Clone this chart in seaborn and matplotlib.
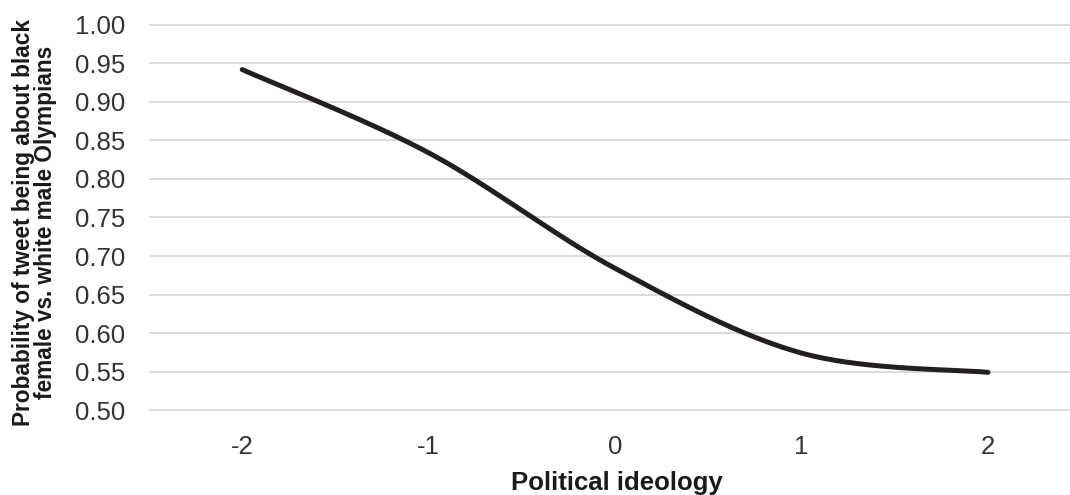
import numpy as np
import pandas as pd
import matplotlib
matplotlib.use("Agg")
import matplotlib.pyplot as plt
import seaborn as sns

# Data
ideology = [-2, -1, 0, 1, 2]
probability = [0.942, 0.834, 0.684, 0.574, 0.549]
y_ticks = [0.50, 0.55, 0.60, 0.65, 0.70, 0.75, 0.80, 0.85, 0.90, 0.95, 1.00]
x_label = "Political ideology"
y_label = "Probability of tweet being about black\nfemale vs. white male Olympians"


def smooth_curve(xv, yv, n=60):
    """Excel-style smoothed line (Catmull-Rom Bezier) through the data points."""
    x = np.asarray(xv, float)
    y = np.asarray(yv, float)
    px = np.concatenate([[x[0]], x, [x[-1]]])
    py = np.concatenate([[y[0]], y, [y[-1]]])
    out_x, out_y = [], []
    t = np.linspace(0, 1, n)
    for i in range(1, len(px) - 2):
        p0x, p1x, p2x, p3x = px[i - 1], px[i], px[i + 1], px[i + 2]
        p0y, p1y, p2y, p3y = py[i - 1], py[i], py[i + 1], py[i + 2]
        c1x, c1y = p1x + (p2x - p0x) / 6, p1y + (p2y - p0y) / 6
        c2x, c2y = p2x - (p3x - p1x) / 6, p2y - (p3y - p1y) / 6
        bx = (1 - t) ** 3 * p1x + 3 * (1 - t) ** 2 * t * c1x + 3 * (1 - t) * t ** 2 * c2x + t ** 3 * p2x
        by = (1 - t) ** 3 * p1y + 3 * (1 - t) ** 2 * t * c1y + 3 * (1 - t) * t ** 2 * c2y + t ** 3 * p2y
        if i > 1:
            bx, by = bx[1:], by[1:]
        out_x.extend(bx)
        out_y.extend(by)
    return np.array(out_x), np.array(out_y)


sns.set_theme(style="white")
plt.rcParams["font.family"] = ["Liberation Sans", "DejaVu Sans"]

fig = plt.figure(figsize=(10.7, 4.95), dpi=100)
ax = fig.add_axes([149 / 1070, (495 - 410.7) / 495, 921 / 1070, 386.4 / 495])

sx, sy = smooth_curve(ideology, probability)
df = pd.DataFrame({"ideology": sx, "probability": sy})
sns.lineplot(data=df, x="ideology", y="probability", ax=ax, color="#231f20",
             linewidth=3.6, solid_capstyle="round", sort=False, estimator=None)

ax.set_xlim(-2.5, 2.44)
ax.set_ylim(0.4992, 1.0008)
ax.set_xticks(ideology)
ax.set_xticklabels([str(v) for v in ideology])
ax.set_yticks(y_ticks)
ax.set_yticklabels([f"{v:.2f}" for v in y_ticks])
ax.grid(axis="y", color="#d9d9d9", linewidth=1.3)
ax.grid(axis="x", visible=False)
ax.set_axisbelow(True)
for s in ax.spines.values():
    s.set_visible(False)

ax.tick_params(axis="both", length=0, labelsize=18.5, labelcolor="#333333")
ax.tick_params(axis="y", pad=17.3)
ax.tick_params(axis="x", pad=17.3)

ax.set_xlabel(x_label, fontsize=18.5, fontweight="bold", color="#1a1a1a")
ax.set_ylabel(y_label, fontsize=16.3, fontweight="bold", color="#1a1a1a", linespacing=0.95)
ax.xaxis.set_label_coords(0.5076, -0.157)
ax.yaxis.set_label_coords(-0.100, 0.487)

fig.savefig("out.png", dpi=100)
